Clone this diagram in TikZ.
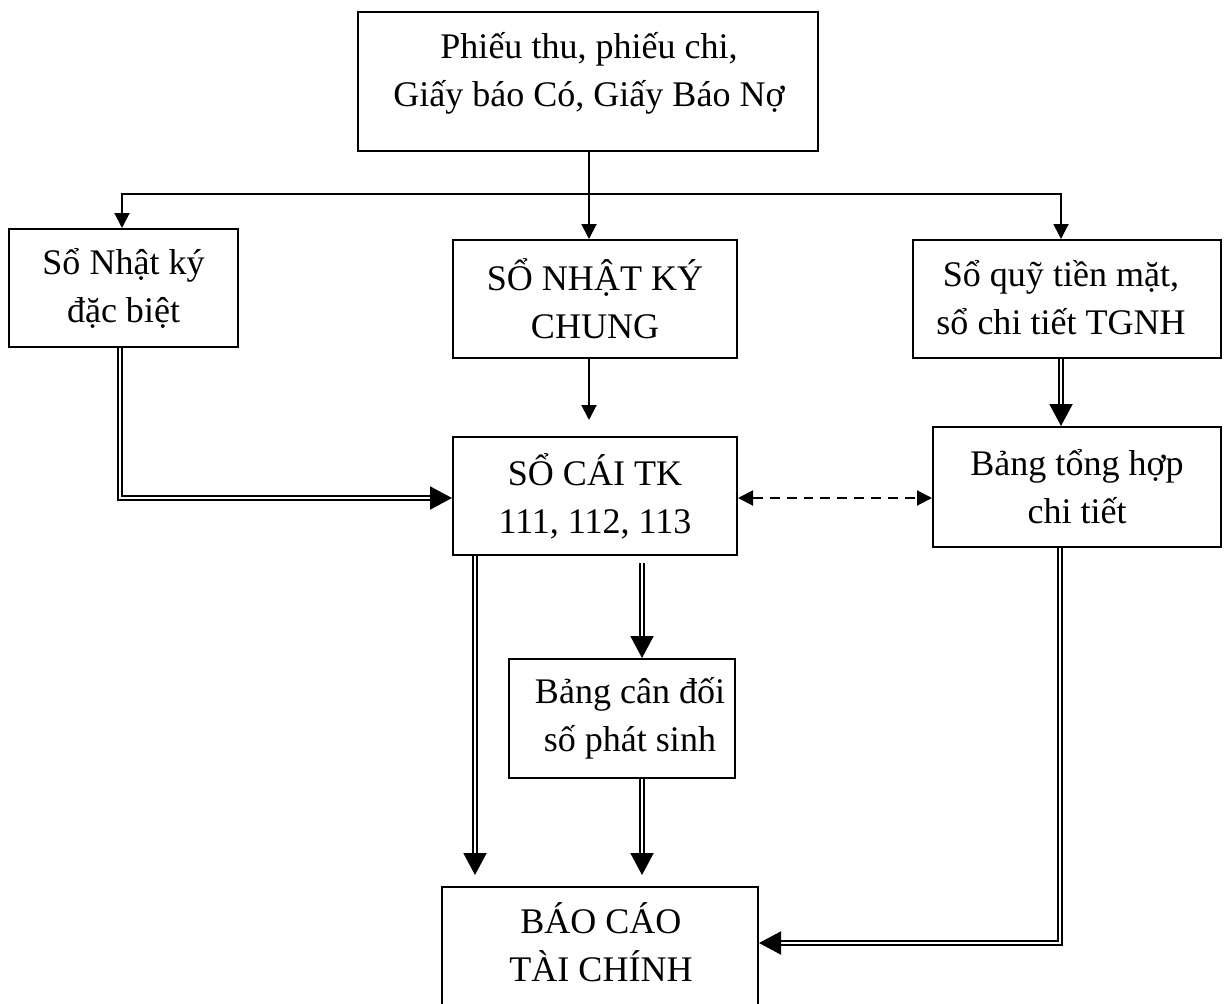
\documentclass[tikz,border=0pt]{standalone}
\usepackage{fontspec}
\setmainfont{Liberation Serif}
\usetikzlibrary{arrows.meta,calc}
\newcommand{\pxu}{0.02cm}
\newcommand{\bodyfont}{\fontsize{20.5pt}{27.3pt}\selectfont}
\begin{document}
\begin{tikzpicture}[x=0.02cm,y=-0.02cm]
\tikzset{
  box/.style={draw, line width=0.04cm, inner sep=0pt, align=center, font=\bodyfont},
  txt/.style={inner sep=0pt, align=center, font=\bodyfont},
  sarr/.style={line width=0.04cm, -{Triangle[length=0.3cm,width=0.3cm]}},
  sarrboth/.style={line width=0.04cm, {Triangle[length=0.3cm,width=0.3cm]}-{Triangle[length=0.3cm,width=0.3cm]}},
  darr/.style={double, double distance=0.05cm, line width=0.04cm, -{Triangle[length=0.44cm,width=0.46cm]}},
  dasharr/.style={line width=0.04cm, dash pattern=on 0.2cm off 0.14cm, {Triangle[length=0.3cm,width=0.3cm]}-{Triangle[length=0.3cm,width=0.3cm]}}
}
\useasboundingbox (0,0) rectangle (1229,1003);
% boxes
\node[box, minimum width=460*\pxu, minimum height=139*\pxu] (topbox) at (588,81.5) {};
\node[txt] (toptext) at (589,73.5) {Phiếu thu, phiếu chi,\\Giấy báo Có, Giấy Báo Nợ};
\node[box, minimum width=229*\pxu, minimum height=118*\pxu] (leftbox) at (123.5,288) {Sổ Nhật ký\\đặc biệt};
\node[box, minimum width=284*\pxu, minimum height=118*\pxu] (sonkc) at (595,299) {SỔ NHẬT KÝ\\CHUNG};
\node[box, minimum width=308*\pxu, minimum height=118*\pxu] (soquy) at (1067,299) {};
\node[txt] (soquytext) at (1061,298) {Sổ quỹ tiền mặt,\\sổ chi tiết TGNH};
\node[box, minimum width=284*\pxu, minimum height=118*\pxu] (socai) at (595,496) {SỔ CÁI TK\\111, 112, 113};
\node[box, minimum width=288*\pxu, minimum height=120*\pxu] (bangth) at (1077,487) {Bảng tổng hợp\\chi tiết};
\node[box, minimum width=226*\pxu, minimum height=119*\pxu] (bangcd) at (622,718.5) {};
\node[txt] (bangcdtext) at (630,718) {Bảng cân đối\\số phát sinh};
\node[box, minimum width=316*\pxu, minimum height=160*\pxu] (bctc) at (600,967) {};
\node[txt] (bctctext) at (601,942.5) {BÁO CÁO\\TÀI CHÍNH};
% coordinates
\coordinate (hl) at (122,194);
\coordinate (hr) at (1061,194);
\coordinate (lx) at (120,498);
\coordinate (sx) at (475,0);
\coordinate (cx) at (642,0);
\coordinate (rx) at (1060,943);
\coordinate (dy) at (0,498);
% connectors
\draw[sarr] (toptext |- topbox.south) -- (toptext |- sonkc.north);
\draw[sarrboth] (hl |- leftbox.north) -- (hl) -- (hr) -- (hr |- soquy.north);
\draw[sarr, shorten >=16*\pxu] (toptext |- sonkc.south) -- (toptext |- socai.north);
\draw[darr] (lx |- leftbox.south) -- (lx) -- (lx -| socai.west);
\draw[darr] (hr |- soquy.south) -- (hr |- bangth.north);
\draw[dasharr] (socai.east |- dy) -- (bangth.west |- dy);
\draw[darr, shorten >=11*\pxu] (sx |- socai.south) -- (sx |- bctc.north);
\draw[darr, shorten <=7*\pxu] (cx |- socai.south) -- (cx |- bangcd.north);
\draw[darr, shorten >=11*\pxu] (cx |- bangcd.south) -- (cx |- bctc.north);
\draw[darr] (rx |- bangth.south) -- (rx) -- (rx -| bctc.east);
\end{tikzpicture}
\end{document}
